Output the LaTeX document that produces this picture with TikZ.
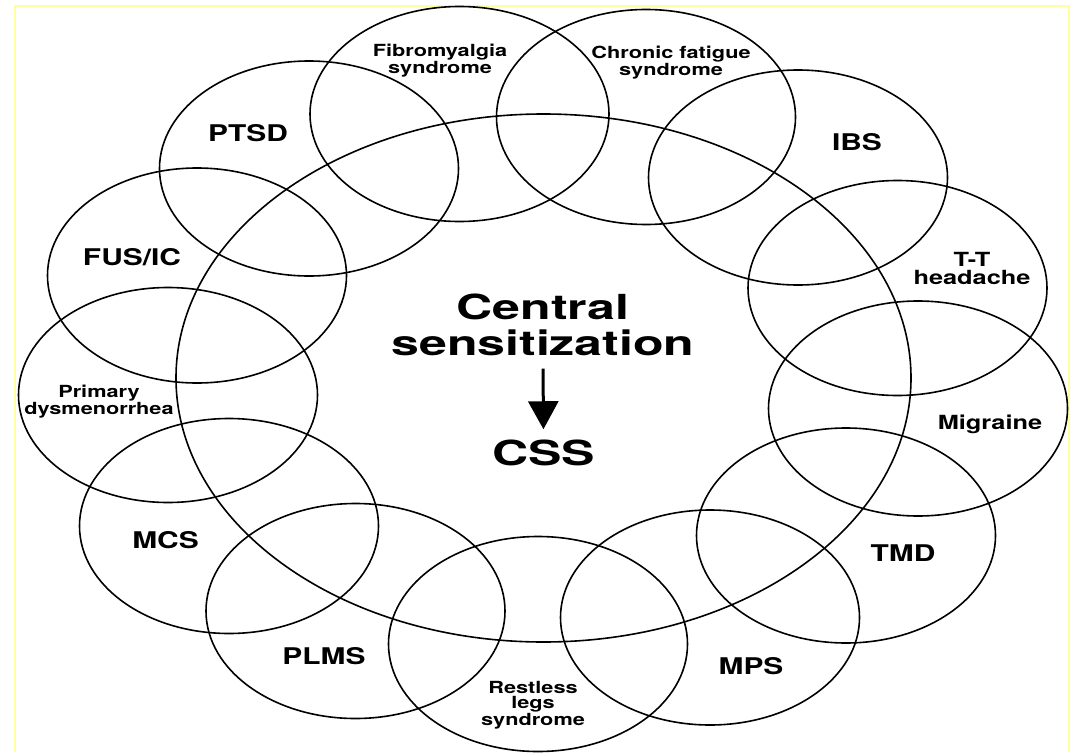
\documentclass[tikz,border=0pt]{standalone}
\usepackage{fontspec}
\newfontfamily\labfont{TeX Gyre Heros}[FakeStretch=1.3]
\newfontfamily\bigfont{TeX Gyre Heros}[FakeStretch=1.45]
\usetikzlibrary{shapes.geometric,arrows.meta}
\definecolor{frameyellow}{RGB}{255,255,160}
\tikzset{
  disease/.style={draw, ellipse, line width=1.6pt, minimum width=299pt, minimum height=215pt, inner sep=0pt, outer sep=0pt},
  core/.style={draw, ellipse, line width=1.6pt, minimum width=735pt, minimum height=528pt, inner sep=0pt, outer sep=0pt},
  biglab/.style={inner sep=0pt, align=center, font=\labfont\bfseries\fontsize{23}{23}\selectfont},
  smalllab/.style={inner sep=0pt, align=center, font=\labfont\bfseries\fontsize{16.7}{15}\selectfont},
  midlab/.style={inner sep=0pt, align=center, font=\labfont\bfseries\fontsize{19.5}{18}\selectfont},
  centrelab/.style={inner sep=0pt, align=center, font=\bigfont\bfseries\fontsize{34.5}{36}\selectfont},
  cssarrow/.style={line width=3pt, -{Triangle[width=30pt,length=28pt]}, shorten <=13pt, shorten >=10pt},
}
\begin{document}
\begin{tikzpicture}[x=1pt,y=-1pt]
\useasboundingbox (0,0) rectangle (1070,752);
\fill[white] (0,0) rectangle (1070,752);
\coordinate (fbl) at (15,752);
\coordinate (ftl) at (15,6);
\coordinate (ftr) at (1069,6);
\coordinate (fbr) at (1069,752);
\draw[frameyellow, line width=2pt] (fbl) -- (ftl) -- (ftr) -- (fbr);

% central ellipse
\node[core] (centre) at (543.5,378) {};

% surrounding ellipses
\node[disease] (ePTSD) at (309,168.5) {};
\node[disease] (eFib)  at (459.5,114) {};
\node[disease] (eCFS)  at (646,117) {};
\node[disease] (eIBS)  at (798,177.5) {};
\node[disease] (eTT)   at (897.5,288) {};
\node[disease] (eMig)  at (918,408.5) {};
\node[disease] (eTMD)  at (846,535.5) {};
\node[disease] (eMPS)  at (710,617.5) {};
\node[disease] (eRLS)  at (538,644) {};
\node[disease] (ePLMS) at (355.5,611) {};
\node[disease] (eMCS)  at (229,526) {};
\node[disease] (ePD)   at (168,395) {};
\node[disease] (eFUS)  at (197,275.5) {};

% labels
\node[biglab, anchor=base] (lPTSD) at (248,141) {PTSD};
\node[biglab, anchor=base] (lIBS)  at (857,150) {IBS};
\node[biglab, anchor=base] (lFUS)  at (132,265) {FUS/IC};
\node[biglab, anchor=base] (lMCS)  at (165.5,548) {MCS};
\node[biglab, anchor=base] (lPLMS) at (324,664) {PLMS};
\node[biglab, anchor=base] (lMPS)  at (751,674) {MPS};
\node[biglab, anchor=base] (lTMD)  at (903,561) {TMD};
\node[midlab, anchor=base] (lMig)  at (990,429) {Migraine};
\node[midlab] (lTT) at (972,268) {T-T\\headache};
\node[smalllab] (lFib) at (440,61) {Fibromyalgia\\syndrome};
\node[smalllab] (lCFS) at (671,63) {Chronic fatigue\\syndrome};
\node[smalllab] (lPD)  at (99,402) {Primary\\dysmenorrhea};
\node[smalllab] (lRLS) at (533,705) {Restless\\legs\\syndrome};

\node[centrelab] (cs) at (543,324.5) {Central\\sensitization};
\node[centrelab, anchor=base] (css) at (543.5,465) {CSS};
\draw[cssarrow] (cs.south) -- (css.north);
\end{tikzpicture}
\end{document}
